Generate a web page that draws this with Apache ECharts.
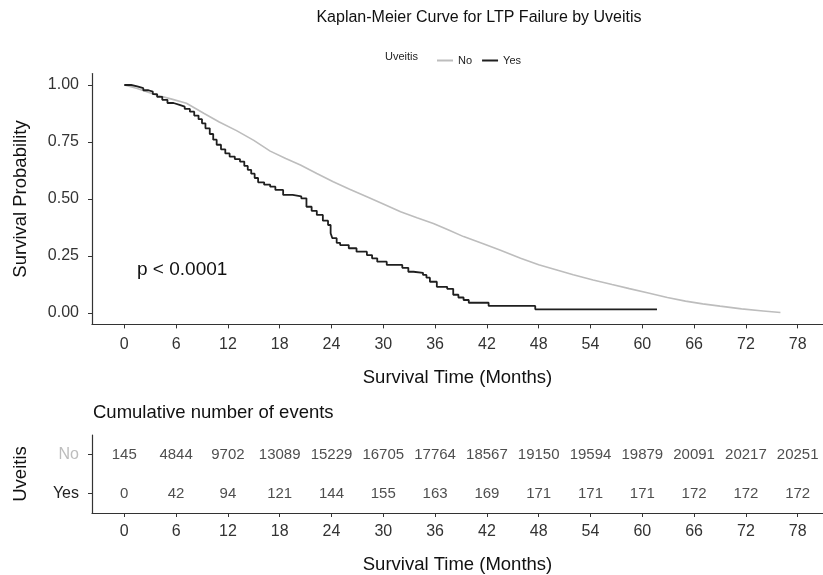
<!DOCTYPE html>
<html>
<head>
<meta charset="utf-8">
<script src="https://cdn.jsdelivr.net/npm/echarts@6/dist/echarts.min.js"></script>
<style>
html,body{margin:0;padding:0;background:#fff;}
#chart{width:823px;height:575px;}
</style>
</head>
<body>
<div id="chart"></div>
<script>
// ---- data ----
const monthTicks = [0, 6, 12, 18, 24, 30, 36, 42, 48, 54, 60, 66, 72, 78];
const survTicks = [0, 0.25, 0.5, 0.75, 1];
const groups = ['No', 'Yes'];

const noTime = [0, 1.5, 3.7, 5.5, 7.2, 9.2, 11.0, 13.0, 15.0, 16.9, 18.7, 20.4, 22.3, 24.2, 26.1, 28.1, 30.0, 32.0, 33.9, 35.8, 37.5, 39.3, 41.5, 43.5, 45.9, 48.0, 50.0, 52.0, 54.3, 56.5, 58.5, 60.7, 62.9, 65.0, 67.0, 69.0, 71.5, 74.0, 76.0];
const noSurv = [1.0, 0.985, 0.956, 0.938, 0.920, 0.876, 0.838, 0.800, 0.757, 0.710, 0.678, 0.649, 0.612, 0.576, 0.543, 0.510, 0.478, 0.444, 0.418, 0.393, 0.365, 0.335, 0.305, 0.276, 0.240, 0.212, 0.190, 0.168, 0.145, 0.125, 0.107, 0.088, 0.068, 0.052, 0.040, 0.030, 0.018, 0.009, 0.002];

const yesTime = [0, 0.8, 1.5, 2.2, 2.8, 3.3, 3.8, 4.4, 5.0, 5.7, 6.4, 7.0, 7.6, 8.1, 8.6, 9.0, 9.4, 9.9, 10.3, 10.7, 11.2, 11.7, 12.2, 12.8, 13.4, 13.9, 14.3, 14.7, 15.1, 15.5, 16.2, 16.9, 17.5, 18.4, 19.5, 20.5, 21.1, 21.7, 22.3, 23.0, 23.6, 23.9, 24.1, 24.6, 25.0, 26.0, 26.9, 28.1, 28.7, 29.3, 30.4, 32.2, 32.9, 33.5, 34.6, 35.0, 35.4, 36.2, 37.4, 38.1, 38.7, 39.3, 39.9, 42.2, 47.6, 61.7];
const yesSurv = [1.0, 0.994, 0.986, 0.977, 0.971, 0.960, 0.948, 0.935, 0.921, 0.913, 0.905, 0.895, 0.883, 0.866, 0.850, 0.832, 0.810, 0.785, 0.760, 0.738, 0.718, 0.700, 0.686, 0.675, 0.664, 0.645, 0.628, 0.611, 0.592, 0.573, 0.563, 0.554, 0.540, 0.518, 0.512, 0.503, 0.466, 0.448, 0.430, 0.405, 0.386, 0.350, 0.328, 0.308, 0.298, 0.284, 0.269, 0.254, 0.240, 0.225, 0.211, 0.198, 0.181, 0.176, 0.167, 0.155, 0.137, 0.115, 0.106, 0.080, 0.068, 0.057, 0.045, 0.031, 0.016, 0.016];

const eventsNo = [145, 4844, 9702, 13089, 15229, 16705, 17764, 18567, 19150, 19594, 19879, 20091, 20217, 20251];
const eventsYes = [0, 42, 94, 121, 144, 155, 163, 169, 171, 171, 171, 172, 172, 172];

const colorNo = '#bdbdbd';
const colorYes = '#1f1f1f';
const FONT = "'Liberation Sans', Arial, sans-serif";

const chart = echarts.init(document.getElementById('chart'), null, {renderer: 'canvas'});

const xMin = -3.74, xMax = 80.93;
const axisLineStyle = {show: true, onZero: false, lineStyle: {color: '#333', width: 1.2}};
const tickStyle = {show: true, length: 4, lineStyle: {color: '#333', width: 1}};
const tickLabelSize = 16;
const axisTitleSize = 18.5;

const option = {
  backgroundColor: '#fff',
  animation: false,
  textStyle: {fontFamily: FONT},
  grid: [
    {left: 92, right: 0, top: 73.6, bottom: 250.6, containLabel: false},
    {left: 92, right: 0, top: 435, bottom: 62, containLabel: false}
  ],
  legend: {
    data: groups,
    left: 432, top: 50,
    icon: 'rect', itemWidth: 16, itemHeight: 2, itemGap: 10,
    textStyle: {fontSize: 11, color: '#222', fontFamily: FONT},
    selectedMode: false
  },
  xAxis: [
    {
      type: 'value', gridIndex: 0, min: xMin, max: xMax,
      axisLine: axisLineStyle,
      axisTick: Object.assign({customValues: monthTicks}, tickStyle),
      axisLabel: {customValues: monthTicks, color: '#333', fontSize: tickLabelSize, margin: 12, fontFamily: FONT},
      splitLine: {show: false},
      name: 'Survival Time (Months)', nameLocation: 'middle', nameGap: 44,
      nameTextStyle: {fontSize: axisTitleSize, color: '#111', fontFamily: FONT}
    },
    {
      type: 'value', gridIndex: 1, min: xMin, max: xMax,
      axisLine: axisLineStyle,
      axisTick: Object.assign({customValues: monthTicks}, tickStyle),
      axisLabel: {customValues: monthTicks, color: '#333', fontSize: tickLabelSize, margin: 11, fontFamily: FONT},
      splitLine: {show: false},
      name: 'Survival Time (Months)', nameLocation: 'middle', nameGap: 42,
      nameTextStyle: {fontSize: axisTitleSize, color: '#111', fontFamily: FONT}
    }
  ],
  yAxis: [
    {
      type: 'value', gridIndex: 0, min: -0.05, max: 1.05,
      axisLine: axisLineStyle,
      axisTick: Object.assign({customValues: survTicks}, tickStyle),
      axisLabel: {customValues: survTicks, color: '#333', fontSize: tickLabelSize, margin: 13, fontFamily: FONT,
        formatter: v => v.toFixed(2)},
      splitLine: {show: false},
      name: 'Survival Probability', nameLocation: 'middle', nameGap: 62, nameRotate: 90,
      nameTextStyle: {fontSize: axisTitleSize, color: '#111', fontFamily: FONT}
    },
    {
      type: 'category', gridIndex: 1, data: ['Yes', 'No'],
      axisLine: axisLineStyle,
      axisTick: {show: true, length: 4, alignWithLabel: true, lineStyle: {color: '#333', width: 1}},
      axisLabel: {fontSize: tickLabelSize, margin: 13, fontFamily: FONT,
        color: (v) => v === 'No' ? colorNo : '#222'},
      splitLine: {show: false},
      name: 'Uveitis', nameLocation: 'middle', nameGap: 62, nameRotate: 90,
      nameTextStyle: {fontSize: axisTitleSize, color: '#111', fontFamily: FONT}
    }
  ],
  graphic: [
    {type: 'text', x: 479, y: 10, style: {text: 'Kaplan-Meier Curve for LTP Failure by Uveitis', font: '16px ' + FONT, fill: '#111', textAlign: 'center'}},
    {type: 'text', x: 385, y: 51, style: {text: 'Uveitis', font: '11px ' + FONT, fill: '#222'}},
    {type: 'text', x: 137, y: 260, style: {text: 'p < 0.0001', font: '19px ' + FONT, fill: '#111'}},
    {type: 'text', x: 93, y: 403, style: {text: 'Cumulative number of events', font: '18.5px ' + FONT, fill: '#111'}}
  ],
  series: [
    {
      name: 'No', type: 'line', xAxisIndex: 0, yAxisIndex: 0,
      data: noTime.map((t, i) => [t, noSurv[i]]),
      showSymbol: false,
      lineStyle: {color: colorNo, width: 1.6}, itemStyle: {color: colorNo}
    },
    {
      name: 'Yes', type: 'line', xAxisIndex: 0, yAxisIndex: 0, step: 'end',
      data: yesTime.map((t, i) => [t, yesSurv[i]]),
      showSymbol: false,
      lineStyle: {color: colorYes, width: 1.8}, itemStyle: {color: colorYes}
    },
    {
      type: 'scatter', xAxisIndex: 1, yAxisIndex: 1, symbolSize: 0,
      data: monthTicks.map((t, i) => [t, 'No', eventsNo[i]]),
      label: {show: true, position: 'inside', formatter: p => String(p.value[2]), fontSize: 15, color: '#222', fontFamily: FONT},
      silent: true
    },
    {
      type: 'scatter', xAxisIndex: 1, yAxisIndex: 1, symbolSize: 0,
      data: monthTicks.map((t, i) => [t, 'Yes', eventsYes[i]]),
      label: {show: true, position: 'inside', formatter: p => String(p.value[2]), fontSize: 15, color: '#222', fontFamily: FONT},
      silent: true
    }
  ]
};
chart.setOption(option);
</script>
</body>
</html>
